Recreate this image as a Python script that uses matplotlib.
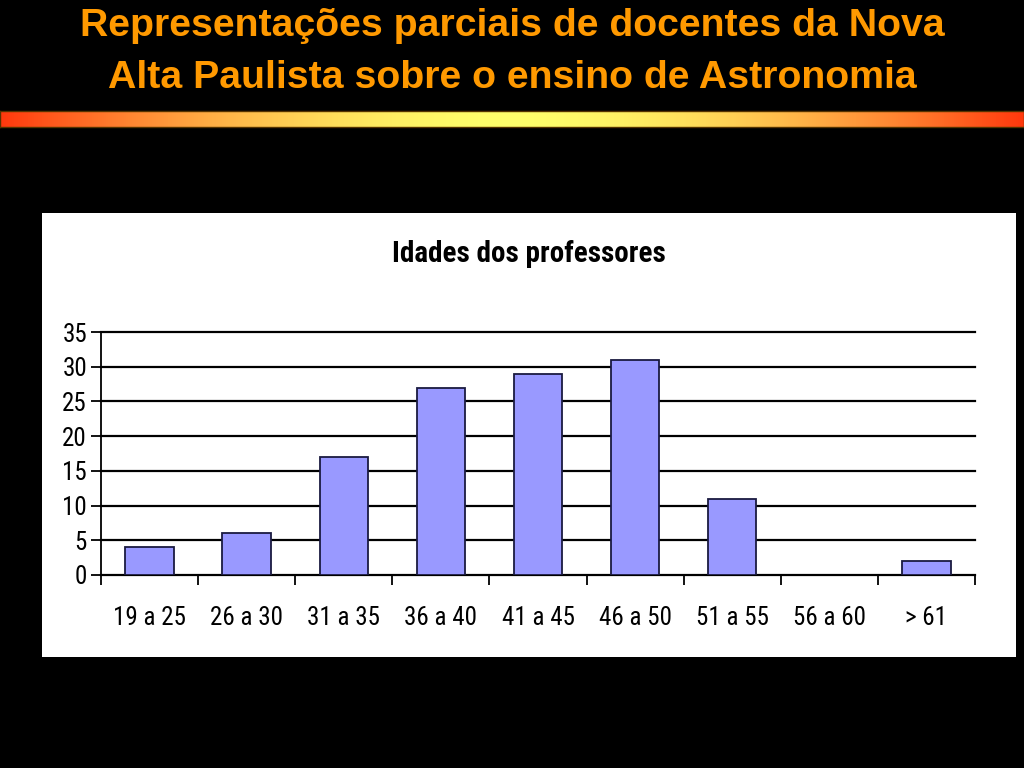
import matplotlib
matplotlib.use("Agg")
import matplotlib.pyplot as plt
import numpy as np
from matplotlib.patches import Rectangle
from matplotlib import font_manager as fm

categories = ["19 a 25", "26 a 30", "31 a 35", "36 a 40", "41 a 45", "46 a 50", "51 a 55", "56 a 60", "> 61"]
values = [4, 6, 17, 27, 29, 31, 11, 0, 2]
yticks = [0, 5, 10, 15, 20, 25, 30, 35]
slide_title = ["Representações parciais de docentes da Nova", "Alta Paulista sobre o ensino de Astronomia"]
chart_title = "Idades dos professores"

names = {f.name for f in fm.fontManager.ttflist}
narrow = None
for cand in ["Liberation Sans Narrow", "Arial Narrow", "DejaVu Sans Condensed", "Roboto Condensed"]:
    if cand in names:
        narrow = cand
        break
narrow_fam = [narrow, "Liberation Sans", "DejaVu Sans"] if narrow else ["Liberation Sans", "DejaVu Sans"]

fig = plt.figure(figsize=(10.24, 7.68), dpi=100, facecolor="black")

# slide title
fig.text(0.5, 1 - 26 / 768, slide_title[0], color="#FF9900", fontsize=28.3, fontweight="bold",
         ha="center", va="center", family=["Liberation Sans", "DejaVu Sans"])
fig.text(0.5, 1 - 78 / 768, slide_title[1], color="#FF9900", fontsize=28.3, fontweight="bold",
         ha="center", va="center", family=["Liberation Sans", "DejaVu Sans"])

# gradient bar
gax = fig.add_axes([0, (768 - 127) / 768, 1, 16 / 768])
t = np.linspace(-1, 1, 512)
w = np.abs(t) ** 1.7
c0 = np.array([1.0, 1.0, 0.42])
c1 = np.array([1.0, 0.22, 0.05])
grad = (c0[None, :] * (1 - w[:, None]) + c1[None, :] * w[:, None])[None, :, :]
gax.imshow(grad, aspect="auto", extent=[0, 1, 0, 1])
gax.set_xlim(0, 1); gax.set_ylim(0, 1)
gax.set_xticks([]); gax.set_yticks([])
for s in gax.spines.values():
    s.set_color("#553300"); s.set_linewidth(1)

# white chart box
fig.patches.append(Rectangle((42 / 1024, (768 - 657) / 768), 974 / 1024, 444 / 768,
                             transform=fig.transFigure, facecolor="white", edgecolor="none", zorder=-10))

fig.text((42 + 1016) / 2 / 1024, 1 - 254 / 768, chart_title, fontsize=21, fontweight="bold",
         ha="center", va="center", family=narrow_fam, color="black")

ax = fig.add_axes([101 / 1024, (768 - 575) / 768, 874 / 1024, 243 / 768])
ax.set_zorder(5)
ax.set_facecolor("white")
x = np.arange(len(categories))
lws = [1.3 if v > 0 else 0 for v in values]
ax.bar(x, values, width=0.5, color="#9999FF", edgecolor="#1a1a40", linewidth=lws, zorder=3)
ax.set_xlim(-0.5, len(categories) - 0.5)
ax.set_ylim(0, 35)
ax.set_yticks(yticks)
ax.set_yticklabels([str(v) for v in yticks], family=narrow_fam, fontsize=18)
ax.yaxis.grid(True, color="black", linewidth=1.6, zorder=1)
for gl in ax.yaxis.get_gridlines():
    gl.set_clip_on(False)
ax.set_axisbelow(True)
ax.set_xticks(x)
ax.set_xticklabels(categories, family=narrow_fam, fontsize=18)
ax.tick_params(axis="x", length=0, pad=22)
ax.set_xticks(np.arange(len(categories) + 1) - 0.5, minor=True)
ax.tick_params(axis="x", which="minor", length=7, width=1.3, direction="out", color="black")
ax.tick_params(axis="y", length=7, width=1.3, direction="out", pad=3, colors="black")
for s in ["top", "right"]:
    ax.spines[s].set_visible(False)
ax.spines["left"].set_linewidth(1.3)
ax.spines["bottom"].set_linewidth(1.3)

fig.savefig("out.png", dpi=100, facecolor="black")
